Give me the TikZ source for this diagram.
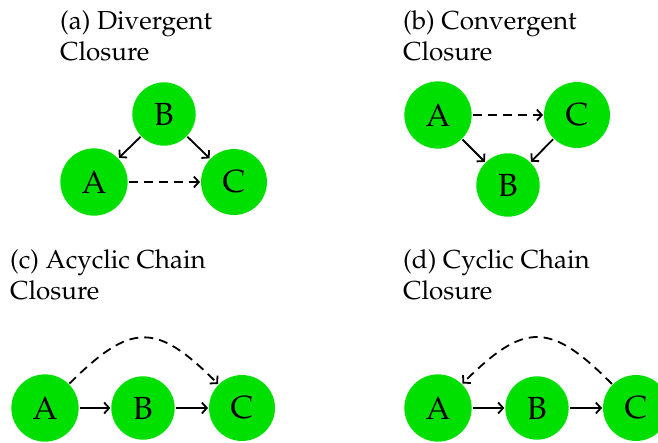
\documentclass[tikz,border=0pt]{standalone}
\usepackage[T1]{fontenc}
\usepackage{mathpazo}
\usetikzlibrary{arrows.meta}
\definecolor{nodegreen}{RGB}{0,224,0}
\tikzset{
  vertex/.style={circle, fill=nodegreen, inner sep=12pt, outer sep=1pt, font=\fontsize{32}{36}\selectfont},
  % base anchor of a two-line caption sits on its second line
  caption/.style={anchor=base west, align=left, inner sep=0pt, font=\fontsize{26}{31}\selectfont},
  edge/.style={-{Straight Barb[length=5pt, width=11pt]}, line width=1.8pt},
  closure/.style={edge, dash pattern=on 9pt off 6pt},
}
\begin{document}
\begin{tikzpicture}[x=1pt, y=-1pt]
\useasboundingbox (0,0) rectangle (658,442);

% (a) divergent closure
\node[caption] (capa) at (60,60) {(a) Divergent\\Closure};
\node[vertex] (aB) at (164,114) {B};
\node[vertex] (aA) at (94,182) {A};
\node[vertex] (aC) at (234,182) {C};
\draw[edge] (aB) -- (aA);
\draw[edge] (aB) -- (aC);
\draw[closure] (aA) -- (aC);

% (b) convergent closure
\node[caption] (capb) at (403,60) {(b) Convergent\\Closure};
\node[vertex] (bA) at (438,115) {A};
\node[vertex] (bC) at (577,115) {C};
\node[vertex] (bB) at (508,185) {B};
\draw[edge] (bA) -- (bB);
\draw[edge] (bC) -- (bB);
\draw[closure] (bA) -- (bC);

% (c) acyclic chain closure
\node[caption] (capc) at (10,299) {(c) Acyclic Chain\\Closure};
\node[vertex] (cA) at (45,408) {A};
\node[vertex] (cB) at (143,408) {B};
\node[vertex] (cC) at (242,408) {C};
\draw[edge] (cA) -- (cB);
\draw[edge] (cB) -- (cC);
\draw[closure] (cA) to[bend left=45, looseness=1.5] (cC);

% (d) cyclic chain closure
\node[caption] (capd) at (403,299) {(d) Cyclic Chain\\Closure};
\node[vertex] (dA) at (438,408) {A};
\node[vertex] (dB) at (537,408) {B};
\node[vertex] (dC) at (636,408) {C};
\draw[edge] (dA) -- (dB);
\draw[edge] (dB) -- (dC);
\draw[closure] (dC) to[bend right=45, looseness=1.5] (dA);
\end{tikzpicture}
\end{document}
